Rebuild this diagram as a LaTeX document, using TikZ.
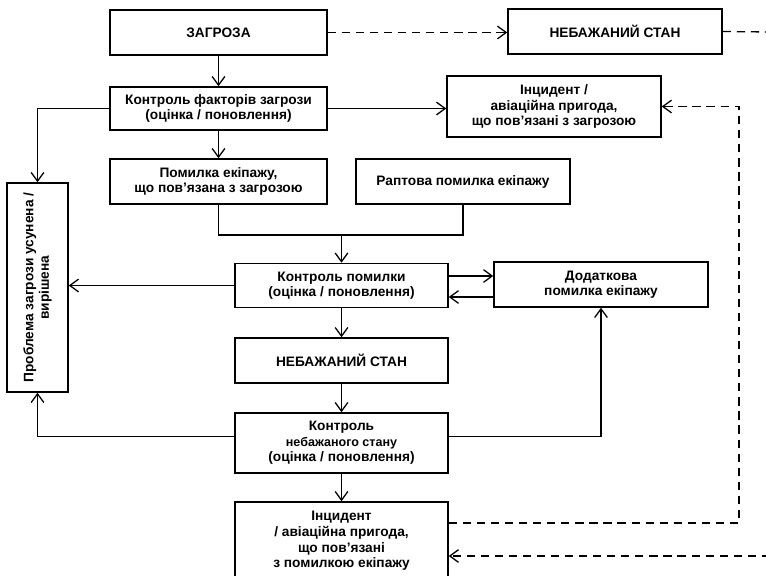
\documentclass[tikz,border=0pt]{standalone}
\usepackage{fontspec}
\setmainfont{Liberation Sans}
\usetikzlibrary{arrows.meta, positioning, calc}
\tikzset{
  % open barbs, as in the printed scheme
  every picture/.append style = {line width=1.1pt, >={Straight Barb[length=2.6mm,width=3.8mm]}},
  box/.style      = {draw, line width=1.3pt, align=center, inner sep=2pt,
                     font=\fontsize{11.7}{13.3}\selectfont\bfseries},
  bsize/.style 2 args = {minimum width=#1*0.03cm, minimum height=#2*0.03cm},
  link/.style     = {->, line width=1.1pt},
  dlink/.style    = {line width=1.1pt, dash pattern=on 7pt off 5pt},
}

\begin{document}
\begin{tikzpicture}[x=0.03cm,y=-0.03cm]
  \useasboundingbox (0,0) rectangle (766,575);
  % top row
  \node[box, bsize={217}{45}] (threat) at (218.5,32.5) {ЗАГРОЗА};
  \node[box, bsize={214}{45}] (undesA) at (615,31.5) {НЕБАЖАНИЙ СТАН};
  \node[box, bsize={217}{43}] (tcontrol) at (218.5,108.5) {Контроль факторів загрози\\(оцінка / поновлення)};
  \node[box, bsize={214}{61}] (incA) at (554,106.5) {Інцидент /\\авіаційна пригода,\\що пов’язані з загрозою};
  % crew errors
  \node[box, bsize={217}{45}] (errA) at (218.5,181.5) {Помилка екіпажу,\\що пов’язана з загрозою};
  \node[box, bsize={214}{45}] (errB) at (463,181.5) {Раптова помилка екіпажу};
  \node[box, bsize={213}{44}] (econtrol) at (341.5,285.5) {Контроль помилки\\(оцінка / поновлення)};
  \node[box, bsize={214}{45}] (errC) at (601,284.5) {Додаткова\\помилка екіпажу};
  % undesired state
  \node[box, bsize={213}{45}] (undesB) at (341.5,360.5) {НЕБАЖАНИЙ СТАН};
  \node[box, bsize={213}{60}] (ucontrol) at (341.5,443) {Контроль\\{\fontsize{10.7}{13.3}\selectfont небажаного стану}\\(оцінка / поновлення)};
  \node[box, bsize={213}{78}] (incB) at (341.5,541) {Інцидент\\/ авіаційна пригода,\\що пов’язані\\з помилкою екіпажу};
  % resolved
  \node[box, bsize={209}{61}, rotate=90] (solved) at (37.5,287.5) {Проблема загрози усунена /\\вирішена};

  \coordinate (merge) at (341.5,235);
  \coordinate (turn) at (739,106.5);
  \coordinate (edgeA) at (770,32);
  \coordinate (edgeB) at (770,556);

  % solid connectors
  \draw[link] (threat) -- (tcontrol);
  \draw[link] (tcontrol) -- (errA);
  \draw[link] (tcontrol.west) -| (solved.east);
  \draw[link] (tcontrol.east) -- (tcontrol.east -| incA.west);
  \draw (errA.south) |- (merge) -| (errB.south);
  \draw[link] (merge) -- (econtrol);
  \draw[link] (econtrol.west) -- (econtrol.west -| solved.south);
  \draw[link] ([yshift=0.285cm]econtrol.east) -- ([yshift=0.285cm]econtrol.east -| errC.west);
  \draw[link] ([yshift=-0.375cm]errC.west) -- ([yshift=-0.375cm]errC.west -| econtrol.east);
  \draw[link] (econtrol) -- (undesB);
  \draw[link] (undesB) -- (ucontrol);
  \draw[link] ([yshift=0.2cm]ucontrol.east) -| (errC.south);
  \draw[link] ([yshift=0.2cm]ucontrol.west) -| (solved.west);
  \draw[link] (ucontrol) -- (incB);

  % dashed connectors
  \draw[dlink, ->] (threat.east) -- (threat.east -| undesA.west);
  \draw[dlink] (undesA.east) -- (edgeA);
  \draw[dlink, ->] ([yshift=0.54cm]incB.east) -| (turn) -- (incA.east);
  \draw[dlink, ->] (edgeB) -- (edgeB -| incB.east);
\end{tikzpicture}
\end{document}
